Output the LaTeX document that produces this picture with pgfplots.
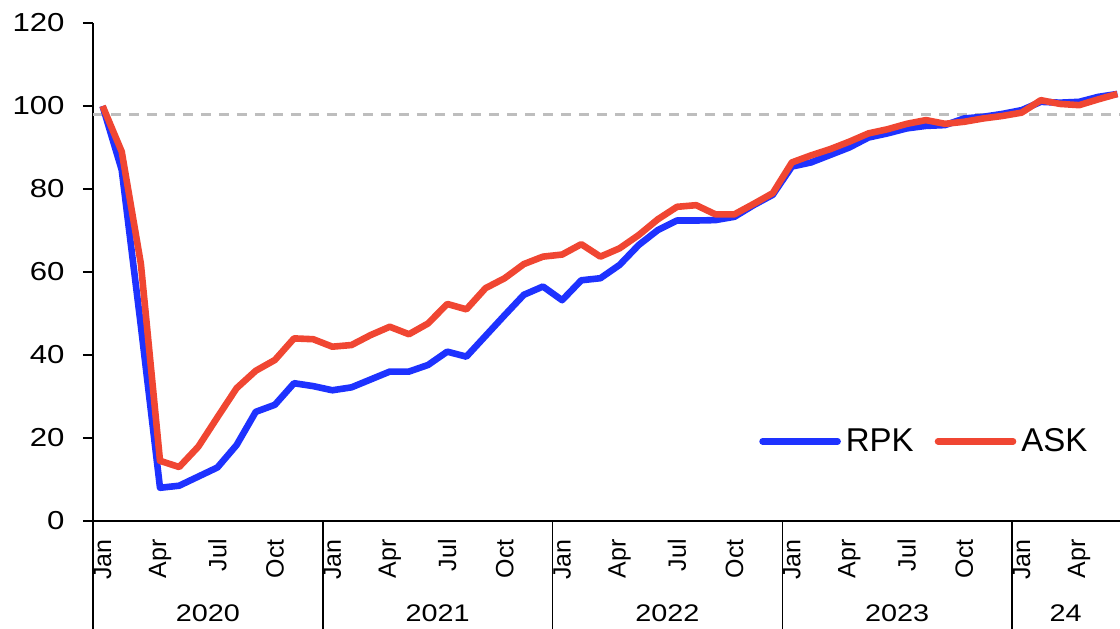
\documentclass[border=0pt]{standalone}
\usepackage{fontspec}
\setmainfont{Liberation Sans}
\newfontfamily\numfont[FakeStretch=1.2]{Liberation Sans}
\usepackage{pgfplots}
\usepackage{pgfplotstable}
\pgfplotsset{compat=1.18}

\definecolor{rpkblue}{RGB}{30,50,255}
\definecolor{askred}{RGB}{240,70,50}
\definecolor{refgray}{RGB}{190,190,190}

% month index 0 = Jan 2020
\pgfplotstableread{
m rpk ask
0 100 100
1 84.6 89
2 47 62
3 8 14.5
4 8.5 13
5 10.7 17.9
6 12.9 25
7 18.3 32
8 26.3 36.2
9 28 38.8
10 33.2 44
11 32.5 43.8
12 31.5 42
13 32.2 42.4
14 34.1 44.8
15 36 46.8
16 36 45
17 37.6 47.6
18 40.8 52.3
19 39.6 51
20 44.6 56.1
21 49.6 58.5
22 54.5 61.9
23 56.5 63.7
24 53.2 64.2
25 58 66.7
26 58.5 63.7
27 61.7 65.7
28 66.5 68.9
29 70.1 72.7
30 72.4 75.7
31 72.4 76.1
32 72.5 73.9
33 73.3 73.9
34 76.1 76.4
35 78.6 79
36 85.4 86.4
37 86.4 88.1
38 88.2 89.6
39 90 91.4
40 92.4 93.4
41 93.4 94.4
42 94.6 95.7
43 95.2 96.6
44 95.4 95.7
45 97 96.2
46 97.4 97
47 98.1 97.6
48 99 98.4
49 101 101.4
50 100.8 100.5
51 101 100.2
52 102.2 101.6
53 102.9 102.9
}\traffic

\begin{document}
\begin{tikzpicture}
\begin{axis}[
  name=ax,
  scale only axis,
  width=517pt, height=249pt,
  xmin=-0.5, xmax=53.5, ymin=0, ymax=120,
  axis lines=left,
  axis line style={-, line width=0.8pt},
  clip=false,
  ytick={0,20,...,120},
  tick align=outside,
  major tick length=5pt,
  ytick style={black, line width=0.8pt},
  xtick={0,3,...,51},
  xticklabels={Jan,Apr,Jul,Oct,Jan,Apr,Jul,Oct,Jan,Apr,Jul,Oct,Jan,Apr,Jul,Oct,Jan,Apr},
  xtick style={draw=none},
  xticklabel style={rotate=90, anchor=east, inner sep=0pt, font=\fontsize{12.5}{14}\selectfont},
  xticklabel shift=4pt,
  yticklabel style={anchor=east, inner sep=0pt, xshift=-9pt, font=\numfont\fontsize{13}{15}\selectfont},
  /pgf/number format/assume math mode=true,
  legend columns=2,
  legend style={draw=none, fill=none, inner sep=0pt,
    at={(rel axis cs:0.644,0.16)}, anchor=west,
    font=\fontsize{16.5}{18}\selectfont,
    nodes={inner xsep=2.5pt},
    /tikz/every even column/.append style={column sep=8pt}},
  legend image code/.code={\draw[#1, line cap=round] (0pt,0pt) -- (37.5pt,0pt);},
]
\draw[refgray, line width=1.3pt, dash pattern=on 5pt off 4pt] (axis cs:-0.5,98) -- (axis cs:53.5,98);
\addplot[rpkblue, line width=3.3pt, line join=round] table[x=m, y=rpk] {\traffic};
\addplot[askred, line width=3.3pt, line join=round] table[x=m, y=ask] {\traffic};
\legend{RPK, ASK}

% year separators and labels
\draw[line width=0.8pt] (axis cs:-0.5,0) -- ++(0pt,-54pt);
\draw[line width=0.8pt] (axis cs:11.5,0) -- ++(0pt,-54pt);
\draw[line width=0.8pt] (axis cs:23.5,0) -- ++(0pt,-54pt);
\draw[line width=0.8pt] (axis cs:35.5,0) -- ++(0pt,-54pt);
\draw[line width=0.8pt] (axis cs:47.5,0) -- ++(0pt,-54pt);
\node[font=\numfont\fontsize{12}{14}\selectfont, yshift=-46pt] at (axis cs:5.5,0) {2020};
\node[font=\numfont\fontsize{12}{14}\selectfont, yshift=-46pt] at (axis cs:17.5,0) {2021};
\node[font=\numfont\fontsize{12}{14}\selectfont, yshift=-46pt] at (axis cs:29.5,0) {2022};
\node[font=\numfont\fontsize{12}{14}\selectfont, yshift=-46pt] at (axis cs:41.5,0) {2023};
\node[font=\numfont\fontsize{12}{14}\selectfont, yshift=-46pt] at (axis cs:50.3,0) {24};
\end{axis}
\pgfresetboundingbox
\path ([xshift=-46.5pt,yshift=-54pt]ax.south west) rectangle ([xshift=513.5pt,yshift=11.5pt]ax.north west);
\end{tikzpicture}
\end{document}
